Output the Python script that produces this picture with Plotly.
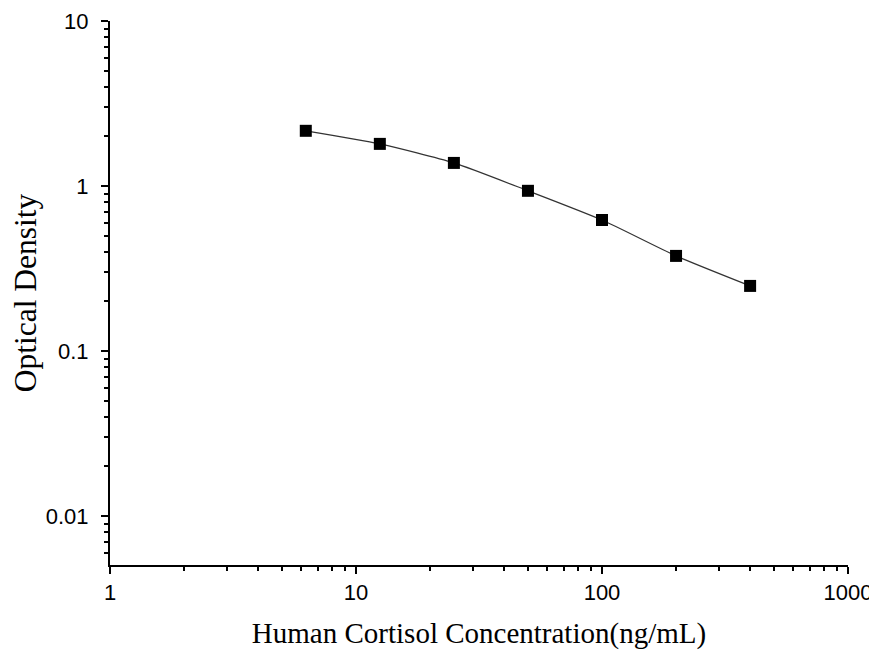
import plotly.graph_objects as go

concentration = [6.25, 12.5, 25, 50, 100, 200, 400]
optical_density = [2.16, 1.80, 1.38, 0.935, 0.622, 0.377, 0.248]

x_tick_vals = [1, 10, 100, 1000]
x_tick_text = ["1", "10", "100", "1000"]
y_tick_vals = [0.01, 0.1, 1, 10]
y_tick_text = ["0.01", "0.1", "1", "10"]

x_minor = [k * 10 ** e for e in range(0, 3) for k in range(2, 10)]
y_minor = [k * 10 ** e for e in range(-3, 1) for k in range(2, 10)]

fig = go.Figure()
fig.add_trace(go.Scatter(
    x=concentration, y=optical_density,
    mode="lines+markers",
    line=dict(color="#333333", width=1.2, shape="spline", smoothing=0.6),
    marker=dict(symbol="square", size=12, color="black"),
    showlegend=False,
))

axis_common = dict(
    type="log",
    showline=True, linecolor="black", linewidth=2,
    ticks="outside", ticklen=7, tickwidth=2, tickcolor="black",
    showgrid=False, zeroline=False,
    tickmode="array",
    automargin=False,
    tickfont=dict(family="Liberation Sans, Arial, sans-serif", size=22, color="black"),
)

fig.update_xaxes(
    **axis_common,
    range=[0, 3],
    tickvals=x_tick_vals, ticktext=x_tick_text,
    minor=dict(tickmode="array", tickvals=x_minor, ticks="outside", ticklen=4, tickwidth=2, tickcolor="black", showgrid=False),
    title=dict(text="Human Cortisol Concentration(ng/mL)", standoff=18,
               font=dict(family="Liberation Serif, Times New Roman, serif", size=29, color="black")),
)
fig.update_yaxes(
    **axis_common,
    range=[-2.297, 1.0],
    tickvals=y_tick_vals, ticktext=y_tick_text,
    ticklabelstandoff=8,
    minor=dict(tickmode="array", tickvals=y_minor, ticks="outside", ticklen=4, tickwidth=2, tickcolor="black", showgrid=False),
    title=dict(text="Optical Density", standoff=14,
               font=dict(family="Liberation Serif, Times New Roman, serif", size=31.5, color="black")),
)

fig.update_layout(
    width=877, height=654,
    margin=dict(l=102, r=37, t=13, b=97),
    plot_bgcolor="white", paper_bgcolor="white",
)

fig.write_html("out.html")
